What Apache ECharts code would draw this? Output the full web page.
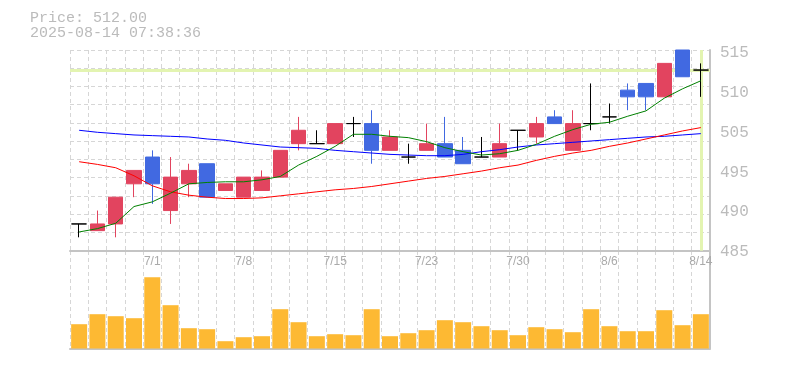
<!DOCTYPE html>
<html>
<head>
<meta charset="utf-8">
<script src="https://cdn.jsdelivr.net/npm/echarts@6/dist/echarts.min.js"></script>
<style>
html,body{margin:0;padding:0;background:#fff;}
#c{width:785px;height:370px;}
</style>
</head>
<body>
<div id="c"></div>
<script>
// ---- data ----
const categories = ['6/25','6/26','6/27','6/30','7/1','7/2','7/3','7/4','7/7','7/8','7/9','7/10','7/11','7/14','7/15','7/16','7/17','7/18','7/22','7/23','7/24','7/25','7/28','7/29','7/30','7/31','8/1','8/4','8/5','8/6','8/7','8/8','8/12','8/13','8/14'];
const opens  = [489,488,489,495,499,491,495,498,494,493,494,496,501,501,501,504,504,500,499,500,501,500,499,499,503,502,505,500,504,505,509,510,508,515,512];
const closes = [489,489,493,497,495,496,497,493,495,496,496,500,503,501,504,504,500,502,499,501,499,498,499,501,503,504,504,504,504,505,508,508,513,511,512];
const lows   = [487,488,487,493,492,489,493,493,494,493,494,496,500,501,501,502,498,500,498,500,499,498,499,499,500,501,504,500,503,504,506,506,508,511,508];
const highs  = [489,491,493,497,500,499,498,498,495,496,497,500,505,503,504,505,506,503,501,504,505,502,502,504,503,505,506,506,510,507,510,510,513,515,513];
const maShort = [487.8,488.3,489.1,491.6,492.3,493.6,495.0,495.2,495.3,495.3,495.6,496.1,497.8,499.1,500.6,502.4,502.4,502.1,501.9,501.3,500.4,499.8,499.3,499.5,500.0,500.9,502.1,503.1,503.9,504.2,505.1,505.9,507.8,509.2,510.4];
const maMid   = [498.3,497.9,497.4,496.2,494.7,493.8,493.3,493.0,492.8,492.8,492.9,493.2,493.5,493.8,494.1,494.3,494.6,495.0,495.4,495.8,496.1,496.5,496.9,497.4,497.8,498.5,499.1,499.6,500.0,500.6,501.1,501.7,502.3,502.9,503.4];
const maLong  = [503.0,502.7,502.5,502.3,502.2,502.1,502.0,501.7,501.5,501.1,500.8,500.5,500.4,500.3,500.0,499.8,499.6,499.4,499.3,499.2,499.2,499.4,499.8,500.1,500.5,500.8,501.0,501.2,501.4,501.6,501.8,502.0,502.1,502.3,502.5];
const volumesK = [24.3,34.3,32.3,30.3,71.3,43.3,20.3,19.3,7.3,11.3,12.3,39.3,26.3,12.3,14.3,13.3,39.3,12.3,15.3,18.3,28.3,26.3,22.3,18.3,13.3,21.3,19.3,16.3,39.3,22.3,17.3,17.3,38.3,23.3,34.3];
const xTickLabels = ['7/1','7/8','7/15','7/23','7/30','8/6','8/14'];
const yTickLabels = ['485','490','495','505','510','515'];
const priceMin = 485, priceMax = 515;
const volMax = 97.5;
const timestamp = '2025-08-14 07:38:36';

// ---- styles ----
const upColor = '#e2445f', downColor = '#4169e1', dojiColor = '#000000';
const gridColor = '#d6d6d6', axisColor = '#c4c4c4';
const hGridDivisions = 11;
const lastClose = closes[closes.length - 1];

const candleData = categories.map((c, i) => {
  const v = [opens[i], closes[i], lows[i], highs[i]];
  if (opens[i] === closes[i]) {
    return { value: v, itemStyle: { color: dojiColor, color0: dojiColor, borderColor: dojiColor, borderColor0: dojiColor } };
  }
  return v;
});

const chart = echarts.init(document.getElementById('c'), null, { renderer: 'canvas' });
chart.setOption({
  animation: false,
  backgroundColor: '#ffffff',
  title: {
    text: 'Price: ' + lastClose.toFixed(2) + '\n' + timestamp,
    left: 30, top: 11, padding: 0,
    textStyle: { fontFamily: 'Liberation Mono', fontSize: 15, fontWeight: 'normal', color: '#bbbbbb', lineHeight: 15 }
  },
  grid: [
    { left: 70, right: 75, top: 50, bottom: 119.3 },
    { left: 70, right: 75, top: 251, bottom: 21.5 },
    { left: 70, right: 75, top: 53, bottom: 118 }
  ],
  xAxis: [
    {
      type: 'category', gridIndex: 0, data: categories, boundaryGap: true,
      axisLine: { show: true, lineStyle: { color: axisColor, width: 2 } },
      axisTick: { show: false },
      axisLabel: {
        interval: (i, v) => xTickLabels.includes(v),
        color: '#aaaaaa', fontFamily: 'Liberation Sans', fontSize: 12, margin: 5
      },
      splitLine: { show: true, interval: 0, lineStyle: { color: gridColor, type: [4, 3], width: 1 } }
    },
    {
      type: 'category', gridIndex: 1, data: categories, boundaryGap: true, offset: 2,
      axisLine: { show: true, lineStyle: { color: axisColor, width: 2 } },
      axisTick: { show: false },
      axisLabel: { show: false },
      splitLine: { show: true, interval: 0, lineStyle: { color: gridColor, type: [4, 3], width: 1 } }
    },
    {
      type: 'category', gridIndex: 2, data: categories, show: false
    }
  ],
  yAxis: [
    {
      type: 'value', gridIndex: 0, min: priceMin, max: priceMax, position: 'right',
      axisLine: { show: true, lineStyle: { color: axisColor, width: 2 } },
      axisTick: { show: false }, axisLabel: { show: false }, splitLine: { show: false }
    },
    {
      type: 'category', gridIndex: 2, data: yTickLabels, boundaryGap: false, position: 'right',
      axisLine: { show: false }, axisTick: { show: false }, splitLine: { show: false },
      axisLabel: { interval: 0, color: '#bbbbbb', fontFamily: 'Liberation Mono', fontSize: 16, margin: 10 }
    },
    {
      type: 'value', gridIndex: 0, min: 0, max: hGridDivisions, interval: 1, position: 'left',
      axisLine: { show: false }, axisTick: { show: false }, axisLabel: { show: false },
      splitLine: { show: true, lineStyle: { color: gridColor, type: [4, 3], width: 1 } }
    },
    {
      type: 'value', gridIndex: 1, min: 0, max: volMax, position: 'right',
      axisLine: { show: true, lineStyle: { color: axisColor, width: 2 } },
      axisTick: { show: false }, axisLabel: { show: false }, splitLine: { show: false }
    }
  ],
  series: [
    {
      type: 'candlestick', xAxisIndex: 0, yAxisIndex: 0, data: candleData, barWidth: 15, z: 2,
      itemStyle: { color: upColor, color0: downColor, borderColor: upColor, borderColor0: downColor, borderWidth: 1 },
      markLine: {
        z: 1, silent: true, symbol: ['none', 'none'], label: { show: false },
        lineStyle: { color: '#e3f4b1', width: 3, type: 'solid' },
        emphasis: { disabled: true },
        data: [ { yAxis: lastClose }, { xAxis: categories[categories.length - 1] } ]
      }
    },
    { type: 'line', xAxisIndex: 0, yAxisIndex: 0, data: maLong, symbol: 'none', z: 3,
      lineStyle: { color: '#0000ff', width: 1 } },
    { type: 'line', xAxisIndex: 0, yAxisIndex: 0, data: maMid, symbol: 'none', z: 3,
      lineStyle: { color: '#ff0000', width: 1 } },
    { type: 'line', xAxisIndex: 0, yAxisIndex: 0, data: maShort, symbol: 'none', z: 3,
      lineStyle: { color: '#008000', width: 1 } },
    { type: 'bar', xAxisIndex: 1, yAxisIndex: 3, data: volumesK, barWidth: 16,
      itemStyle: { color: '#fdb933' } }
  ]
});
</script>
</body>
</html>
